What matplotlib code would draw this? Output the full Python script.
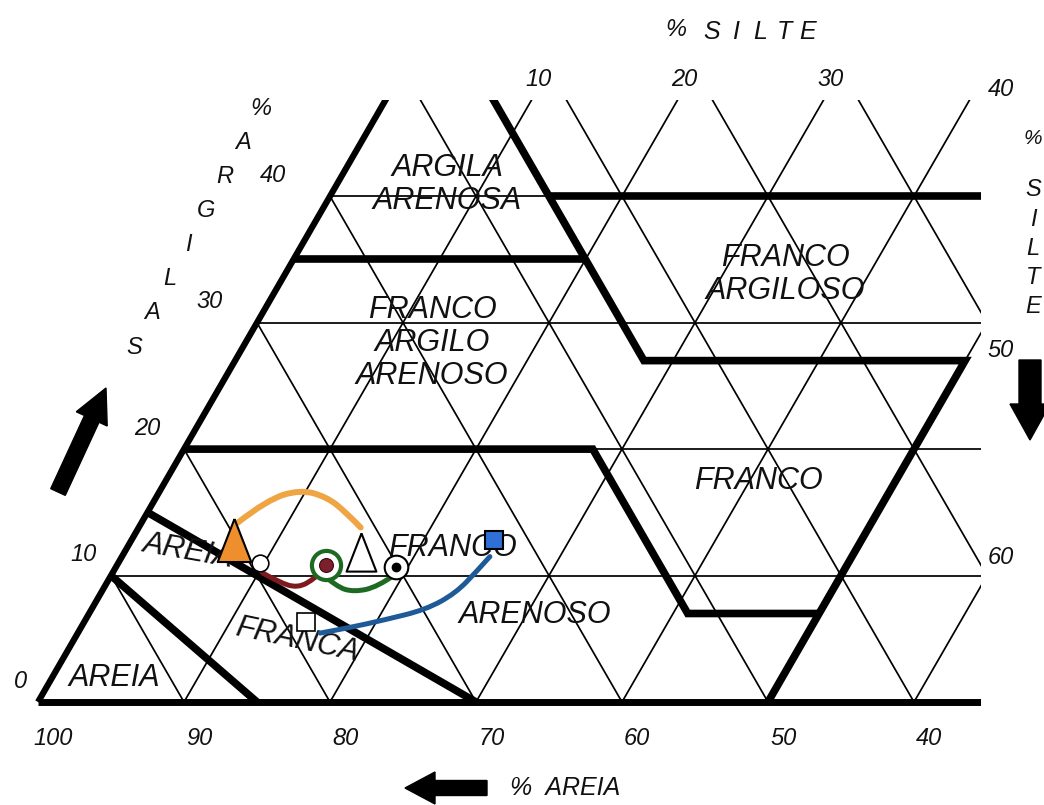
import matplotlib
matplotlib.use("Agg")
import matplotlib.pyplot as plt
from matplotlib.patches import Rectangle, FancyArrow, PathPatch
from matplotlib.path import Path
import numpy as np

plt.rcParams["font.family"] = ["Liberation Sans", "DejaVu Sans"]

H = np.sqrt(3) / 2

# amostras: % silte e % argila (areia = o resto)
sample_silt = [7.0, 9.7, 14.3, 16.2, 19.2, 24.8, 15.2]
sample_clay = [12.8, 11.0, 10.8, 11.9, 10.7, 12.8, 6.3]

# ligacoes entre amostras (% silte, % argila)
orange_silt = [6.6, 7.7, 9.6, 11.7, 13.6, 15.2]
orange_clay = [14.2, 16.0, 16.8, 16.2, 15.0, 13.8]
red_silt = [10.3, 11.7, 13.3, 14.1, 14.4]
red_clay = [10.2, 9.5, 9.0, 9.8, 10.5]
green_silt = [14.3, 15.9, 17.3, 18.7, 19.4]
green_clay = [10.2, 9.1, 8.7, 9.1, 10.05]
blue_silt = [16.6, 18.3, 20.5, 22.9, 24.3, 24.9, 25.2]
blue_clay = [5.45, 5.85, 6.5, 7.3, 8.6, 10.4, 11.5]

# limites das classes texturais (silte, argila)
class_bounds = [
    [(15, 0), (0, 10)],
    [(30, 0), (0, 15)],
    [(0, 20), (28, 20), (41, 7), (50, 7)],
    [(50, 0), (50, 27), (28, 27), (0, 55)],
    [(0, 35), (20, 35)],
    [(15, 40), (60, 40)],
]

sand_ticks = [100, 90, 80, 70, 60, 50, 40]
clay_ticks = [0, 10, 20, 30, 40]
silt_top_ticks = [10, 20, 30]
silt_side_ticks = [40, 50, 60]

region_names = ["ARGILA\nARENOSA", "FRANCO\nARGILO\nARENOSO", "FRANCO\nARGILOSO",
                "FRANCO", "AREIA", "FRANCA", "FRANCO", "ARENOSO", "AREIA"]
region_silt = [7.6, 12.8, 34.3, 40.6, 4.3, 15.3, 22.3, 30.6, 4.3]
region_clay = [40.9, 28.4, 33.8, 17.5, 11.9, 4.9, 12.2, 6.9, 1.9]
region_rot = [0, 0, 0, 0, -10, -12, 0, 0, 0]


def tern(silt, clay):
    silt = np.asarray(silt, dtype=float)
    clay = np.asarray(clay, dtype=float)
    return silt + clay / 2, clay * H


S = 14.6          # px per unit
X0, Y0 = 38, 702  # pixel of the 100 % sand corner
XMAX = 64.6
YMAX = (Y0 - 100) / S

fig = plt.figure(figsize=(10.44, 8.05), dpi=100)
ax = fig.add_axes([0, 0, 1, 1])
ax.set_xlim(-X0 / S, (1044 - X0) / S)
ax.set_ylim(-(805 - Y0) / S, Y0 / S)
ax.axis("off")

clip = Rectangle((-20, -20), XMAX + 20, YMAX + 20, transform=ax.transData)


def seg(points, lw, z=2):
    s, c = zip(*points)
    x, y = tern(s, c)
    ln, = ax.plot(x, y, color="black", lw=lw, solid_joinstyle="miter",
                  solid_capstyle="butt", zorder=z)
    ln.set_clip_path(clip)


def smooth_path(x, y):
    # curva quadratica passando pelos pontos medios
    verts = [(x[0], y[0])]
    codes = [Path.MOVETO]
    n = len(x)
    for i in range(1, n - 1):
        if i == n - 2:
            end = (x[-1], y[-1])
        else:
            end = ((x[i] + x[i + 1]) / 2, (y[i] + y[i + 1]) / 2)
        verts += [(x[i], y[i]), end]
        codes += [Path.CURVE3, Path.CURVE3]
    return Path(verts, codes)


# grade fina
for c in range(10, 100, 10):
    seg([(0, c), (100 - c, c)], 1.25)
for s in range(10, 100, 10):
    seg([(s, 0), (s, 100 - s)], 1.25)
for sd in range(10, 100, 10):
    seg([(100 - sd, 0), (0, 100 - sd)], 1.25)

# bordas e limites
seg([(0, 0), (0, 100)], 4.5, 3)
seg([(0, 0), (100, 0)], 5, 3)
for b in class_bounds:
    seg(b, 5.5, 3)

txt = dict(style="italic", color="#111111")
for name, s, c, r in zip(region_names, region_silt, region_clay, region_rot):
    x, y = tern(s, c)
    ax.text(x, y, name, ha="center", va="center", fontsize=22, rotation=r,
            linespacing=1.12, zorder=4, **txt)

# ticks
for v in sand_ticks:
    x, y = tern(100 - v, 0)
    ax.annotate(str(v), (x, y), xytext=(11, -26), textcoords="offset points",
                ha="center", va="center", fontsize=17, **txt)
for v in clay_ticks:
    x, y = tern(0, v)
    ax.annotate(str(v), (x, y), xytext=(-(17 + v) * 0.72, 15), textcoords="offset points",
                ha="center", va="center", fontsize=17, **txt)
for v in silt_top_ticks:
    x = v + YMAX / np.sqrt(3)
    ax.annotate(str(v), (x, YMAX), xytext=(5, 15), textcoords="offset points",
                ha="center", va="center", fontsize=17, **txt)

# ligacoes
for ss, cc, col, lw in [(orange_silt, orange_clay, "#F0A545", 4.3),
                        (red_silt, red_clay, "#7E1A1E", 3.6),
                        (green_silt, green_clay, "#1E6A22", 3.6),
                        (blue_silt, blue_clay, "#1F5A98", 3.6)]:
    x, y = tern(ss, cc)
    ax.add_patch(PathPatch(smooth_path(x, y), fill=False, edgecolor=col, lw=lw,
                           capstyle="round", joinstyle="round", zorder=5))

# amostras
tri = [(0, 1), (-0.78, -1), (0.78, -1), (0, 1)]
px, py = tern(sample_silt, sample_clay)
mk = [
    dict(marker=tri, ms=31, mfc="#EE8E2C", mec="black", mew=1.5),
    dict(marker="o", ms=12, mfc="white", mec="black", mew=1.2),
    dict(marker="o", ms=21, mfc="white", mec="#1E6A22", mew=3),
    dict(marker=tri, ms=27.5, mfc="white", mec="black", mew=1.5),
    dict(marker="o", ms=17, mfc="white", mec="black", mew=1.5),
    dict(marker="s", ms=13, mfc="#2F6FD6", mec="black", mew=1.5),
    dict(marker="s", ms=13, mfc="white", mec="black", mew=1.2),
]
for x, y, st in zip(px, py, mk):
    ax.plot([x], [y], ls="none", zorder=6, **st)
ax.plot([px[2]], [py[2]], ls="none", marker="o", ms=10, mfc="#7A1F2B",
        mec="#3a0a10", mew=0.8, zorder=7)
ax.plot([px[4]], [py[4]], ls="none", marker="o", ms=6, mfc="black",
        mec="black", zorder=7)

# decoracao externa em pixels
deco = fig.add_axes([0, 0, 1, 1], zorder=10)
deco.set_xlim(0, 1044)
deco.set_ylim(805, 0)
deco.axis("off")
deco.patch.set_alpha(0)

for v, yy in zip(silt_side_ticks, [90, 350, 557]):
    deco.text(1001, yy, str(v), ha="center", va="center", fontsize=17, **txt)

deco.text(676, 30, "%", ha="center", va="center", fontsize=17, **txt)
for i, ch in enumerate("SILTE"):
    deco.text(712 + i * 24, 32, ch, ha="center", va="center", fontsize=18, **txt)
deco.text(1024, 138, "%", ha="left", va="center", fontsize=15, **txt)
for i, ch in enumerate("SILTE"):
    deco.text(1033, 190 + i * 29, ch, ha="center", va="center", fontsize=17, **txt)
for i, ch in enumerate("SALIGRA%"):
    deco.text(134 + i * 18.1, 347 - i * 34.1, ch, ha="center", va="center",
              fontsize=17, **txt)
deco.text(510, 788, "%  AREIA", ha="left", va="center", fontsize=18, **txt)

deco.add_patch(FancyArrow(1030, 360, 0, 80, width=22, head_width=40, head_length=36,
                          length_includes_head=True, color="black"))
deco.add_patch(FancyArrow(487, 788, -82, 0, width=15, head_width=32, head_length=30,
                          length_includes_head=True, color="black"))
deco.add_patch(FancyArrow(58, 492, 48, -104, width=16, head_width=34, head_length=34,
                          length_includes_head=True, color="black"))

fig.savefig("out.png", dpi=100, facecolor="white")
